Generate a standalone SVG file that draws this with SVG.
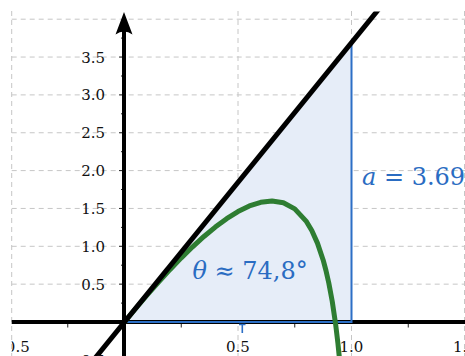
<svg xmlns="http://www.w3.org/2000/svg" width="465" height="356" viewBox="0 0 465 356">
<style>
.grid{stroke:#c6c6c6;stroke-width:1;stroke-dasharray:5,4;fill:none}
.tick{stroke:#222;stroke-width:1}
.lbl{font-family:"DejaVu Serif","Liberation Serif",serif;font-size:15px;fill:#111}
.blue{font-family:"DejaVu Serif","Liberation Serif",serif;font-size:24px;fill:#2a6cc2}
</style>
<defs>
<clipPath id="plot"><rect x="0" y="11.6" width="465" height="345"/></clipPath>
<clipPath id="leftclip"><rect x="11.7" y="0" width="460" height="356"/></clipPath>
</defs>
<rect width="465" height="356" fill="#fff"/>
<g id="grid">
<path class="grid" d="M11.7 11V356M238 11V356M351.5 11V356M464.5 11V356"/>
<path class="grid" d="M11.7 284.15H465M11.7 246.3H465M11.7 208.45H465M11.7 170.6H465M11.7 132.75H465M11.7 94.9H465M11.7 57.05H465M11.7 19.2H465"/>
</g>
<g id="triangle">
<polygon points="124.5,322 351.5,322 351.5,42.7" fill="#e6edf8"/>
</g>
<g id="axes">
<line x1="11.7" y1="322" x2="465" y2="322" stroke="#000" stroke-width="4"/>
<path class="tick" d="M67.75 324V327.5M181.25 324V327.5M294.75 324V327.5M408.25 324V327.5"/>
<path class="tick" d="M119 284.15H124M119 246.3H124M119 208.45H124M119 170.6H124M119 132.75H124M119 94.9H124M119 57.05H124M121 303.1H124M121 265.2H124M121 227.4H124M121 189.5H124M121 151.7H124M121 113.8H124M121 76H124M121 38.1H124"/>
</g>
<g id="triangle-edges" fill="none" stroke="#2c6fc6" stroke-width="2">
<path d="M124.5 322H351.5V42.7"/>
<path d="M239 324.5H245.5M242.3 324.5V333" stroke-width="1.6"/>
</g>
<g id="curve">
<polyline fill="none" stroke="#2e7d32" stroke-width="5" stroke-linejoin="round" points="124.5,322 135.85,308.23 147.2,294.88 158.55,281.99 169.9,269.64 181.25,257.87 192.6,246.78 203.95,236.47 215.3,227.05 226.65,218.68 238,211.58 249.35,205.99 260.7,202.29 272.05,200.96 283.4,202.76 294.75,208.84 306.1,221.08 311.78,230.53 317.45,243.1 323.13,259.93 325.96,270.5 328.8,282.95 332.2,301.09 335.61,324.03 337.88,343.06 339.24,356.43"/>
</g>
<g id="line" clip-path="url(#plot)">
<line x1="93.7" y1="359.9" x2="380" y2="7.6" stroke="#000" stroke-width="5"/>
</g>
<g id="yaxis">
<line x1="124" y1="356" x2="124" y2="28" stroke="#000" stroke-width="4"/>
<path d="M124 12L132.5 34.5Q124 28.5 115.5 34.5Z" fill="#000"/>
</g>
<g id="xlabels" class="lbl" text-anchor="middle" clip-path="url(#leftclip)">
<text x="11.5" y="352">−0.5</text>
<text x="238" y="352">0.5</text>
<text x="351.5" y="352">1.0</text>
<text x="465" y="352">1.5</text>
</g>
<g id="ylabels" class="lbl" text-anchor="end">
<text x="105" y="365.5">−0.5</text>
<text x="105" y="289.6">0.5</text>
<text x="105" y="251.8">1.0</text>
<text x="105" y="214">1.5</text>
<text x="105" y="176.1">2.0</text>
<text x="105" y="138.2">2.5</text>
<text x="105" y="100.4">3.0</text>
<text x="105" y="62.5">3.5</text>
</g>
<g id="angle-label">
<text class="blue" x="192.5" y="279"><tspan font-style="italic">θ</tspan> ≈ 74,8°</text>
</g>
<g id="side-label">
<text class="blue" x="362" y="185"><tspan font-style="italic">a</tspan> = 3.69</text>
</g>
</svg>
